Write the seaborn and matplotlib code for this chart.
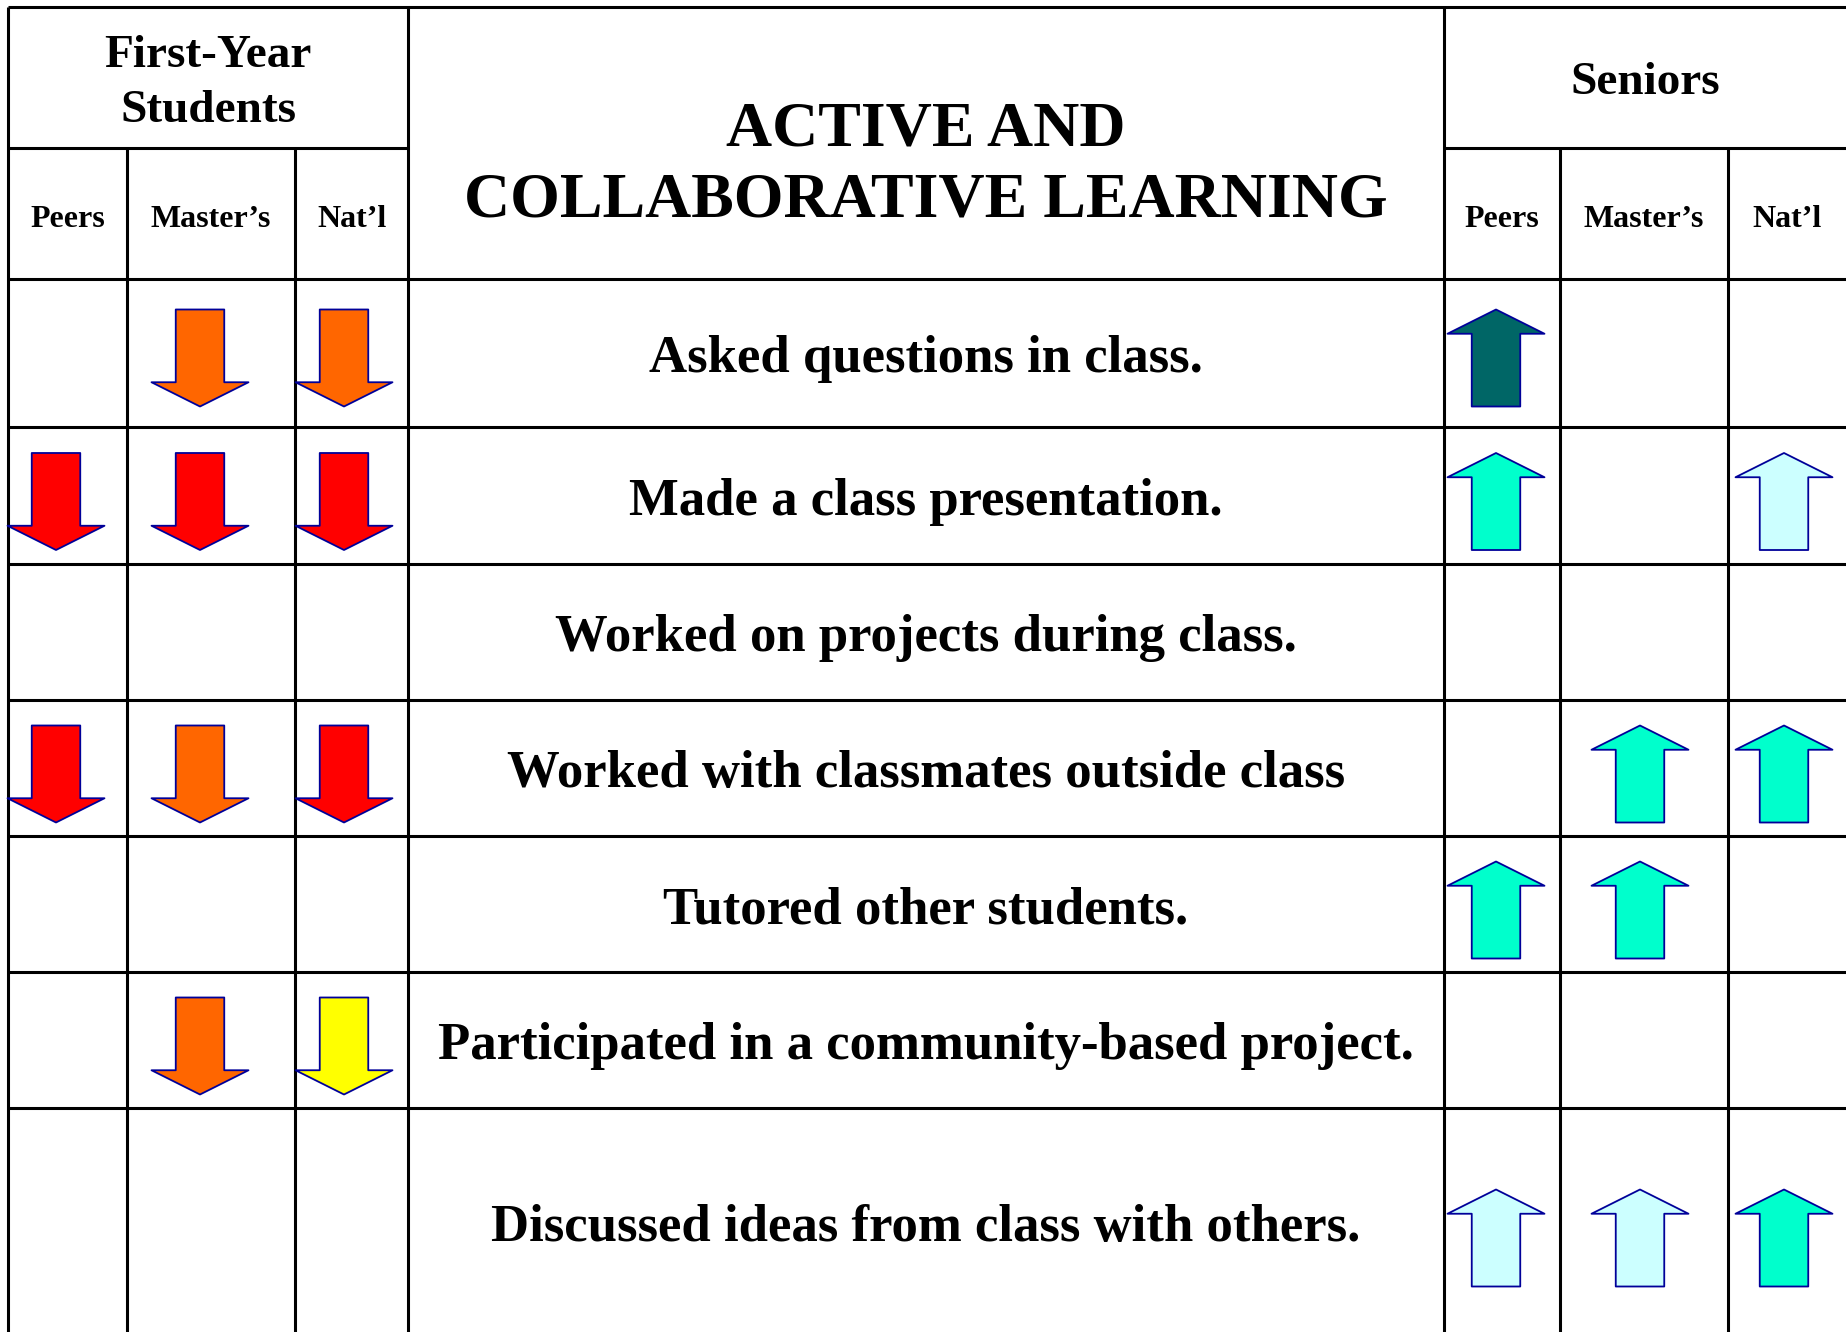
import pandas as pd
import matplotlib
matplotlib.use("Agg")
import matplotlib.pyplot as plt
from matplotlib.path import Path
import seaborn as sns

# ---------- Data ----------
title = "ACTIVE AND\nCOLLABORATIVE LEARNING"
groups = ["First-Year\nStudents", "Seniors"]
comparisons = ["Peers", "Master’s", "Nat’l"]
items = [
    "Asked questions in class.",
    "Made a class presentation.",
    "Worked on projects during class.",
    "Worked with classmates outside class",
    "Tutored other students.",
    "Participated in a community-based project.",
    "Discussed ideas from class with others.",
]
# effect codes: negative = below comparison group, positive = above, 0 = no arrow
first_year = [
    [0, -2, -2],
    [-3, -3, -3],
    [0, 0, 0],
    [-3, -2, -3],
    [0, 0, 0],
    [0, -2, -1],
    [0, 0, 0],
]
seniors = [
    [3, 0, 0],
    [2, 0, 1],
    [0, 0, 0],
    [0, 2, 2],
    [2, 2, 0],
    [0, 0, 0],
    [1, 1, 2],
]
effect_colors = {-3: "#FF0000", -2: "#FF6600", -1: "#FFFF00",
                 1: "#CCFFFF", 2: "#00FFCC", 3: "#006666"}

# ---------- Layout (pixels) ----------
W, H = 1846, 1332
top, split = 7, 148
row_edges = [279, 427, 564, 700, 836, 972, 1108, 1336]
group_edges = [[8, 127, 295, 408], [1444, 1560, 1728, 1848]]
arrow_x0 = [56, 1496]
arrow_step = 144
arrow_dy = [5, 6, 6, 6, 6, 6, 16]

# ---------- Arrow table ----------
recs = []
for g, vals in enumerate([first_year, seniors]):
    for i, row in enumerate(vals):
        yc = (row_edges[i] + row_edges[i + 1]) / 2 + arrow_dy[i]
        for j, v in enumerate(row):
            if v != 0:
                recs.append({"x": arrow_x0[g] + arrow_step * j, "y": yc,
                             "effect": v, "dir": "up" if v > 0 else "down"})
df = pd.DataFrame(recs)

down_verts = [(-0.5, 1), (0.5, 1), (0.5, -0.5), (1, -0.5), (0, -1),
              (-1, -0.5), (-0.5, -0.5), (-0.5, 1)]
up_verts = [(x, -y) for x, y in down_verts]
down_arrow = Path(down_verts, closed=True)
up_arrow = Path(up_verts, closed=True)

sns.set_theme(style="white")
plt.rcParams["font.family"] = ["Liberation Serif", "DejaVu Serif"]
plt.rcParams["text.color"] = "black"

fig = plt.figure(figsize=(W / 100, H / 100), dpi=100)
ax = fig.add_axes([0, 0, 1, 1])

# grid lines
lw = 2.2
fy, sr = group_edges
ax.hlines(top, fy[0], W, color="black", lw=lw)
ax.hlines(split, fy[0], fy[-1], color="black", lw=lw)
ax.hlines(split, sr[0], W, color="black", lw=lw)
ax.hlines(row_edges[:-1], fy[0], W, color="black", lw=lw)
ax.vlines([fy[0], fy[-1], sr[0]], top, H, color="black", lw=lw)
ax.vlines(fy[1:-1] + sr[1:-1], split, H, color="black", lw=lw)

# arrows
sns.scatterplot(data=df, x="x", y="y", hue="effect", style="dir",
                palette=effect_colors, markers={"up": up_arrow, "down": down_arrow},
                s=4878, edgecolor="#000099", linewidth=1.3, legend=False,
                ax=ax, zorder=3)
ax.set_xlim(0, W)
ax.set_ylim(H, 0)
ax.axis("off")

# headers
ax.text((408 + 1444) / 2, 166, title, ha="center", va="center",
        fontsize=46, fontweight="bold", linespacing=1.3)
for g, edges in enumerate(group_edges):
    ax.text((edges[0] + min(edges[-1], W)) / 2, (top + split) / 2 + [6, 5][g], groups[g],
            ha="center", va="center", fontsize=34, fontweight="bold",
            linespacing=1.4)
    for j, lab in enumerate(comparisons):
        ax.text((edges[j] + min(edges[j + 1], W)) / 2, (split + row_edges[0]) / 2 + 6,
                lab, ha="center", va="center", fontsize=23, fontweight="bold")

# item labels
for i, lab in enumerate(items):
    yc = (row_edges[i] + row_edges[i + 1]) / 2
    ax.text((408 + 1444) / 2, yc + 6, lab, ha="center", va="center",
            fontsize=38, fontweight="bold")

fig.savefig("out.png", dpi=100, facecolor="white")
